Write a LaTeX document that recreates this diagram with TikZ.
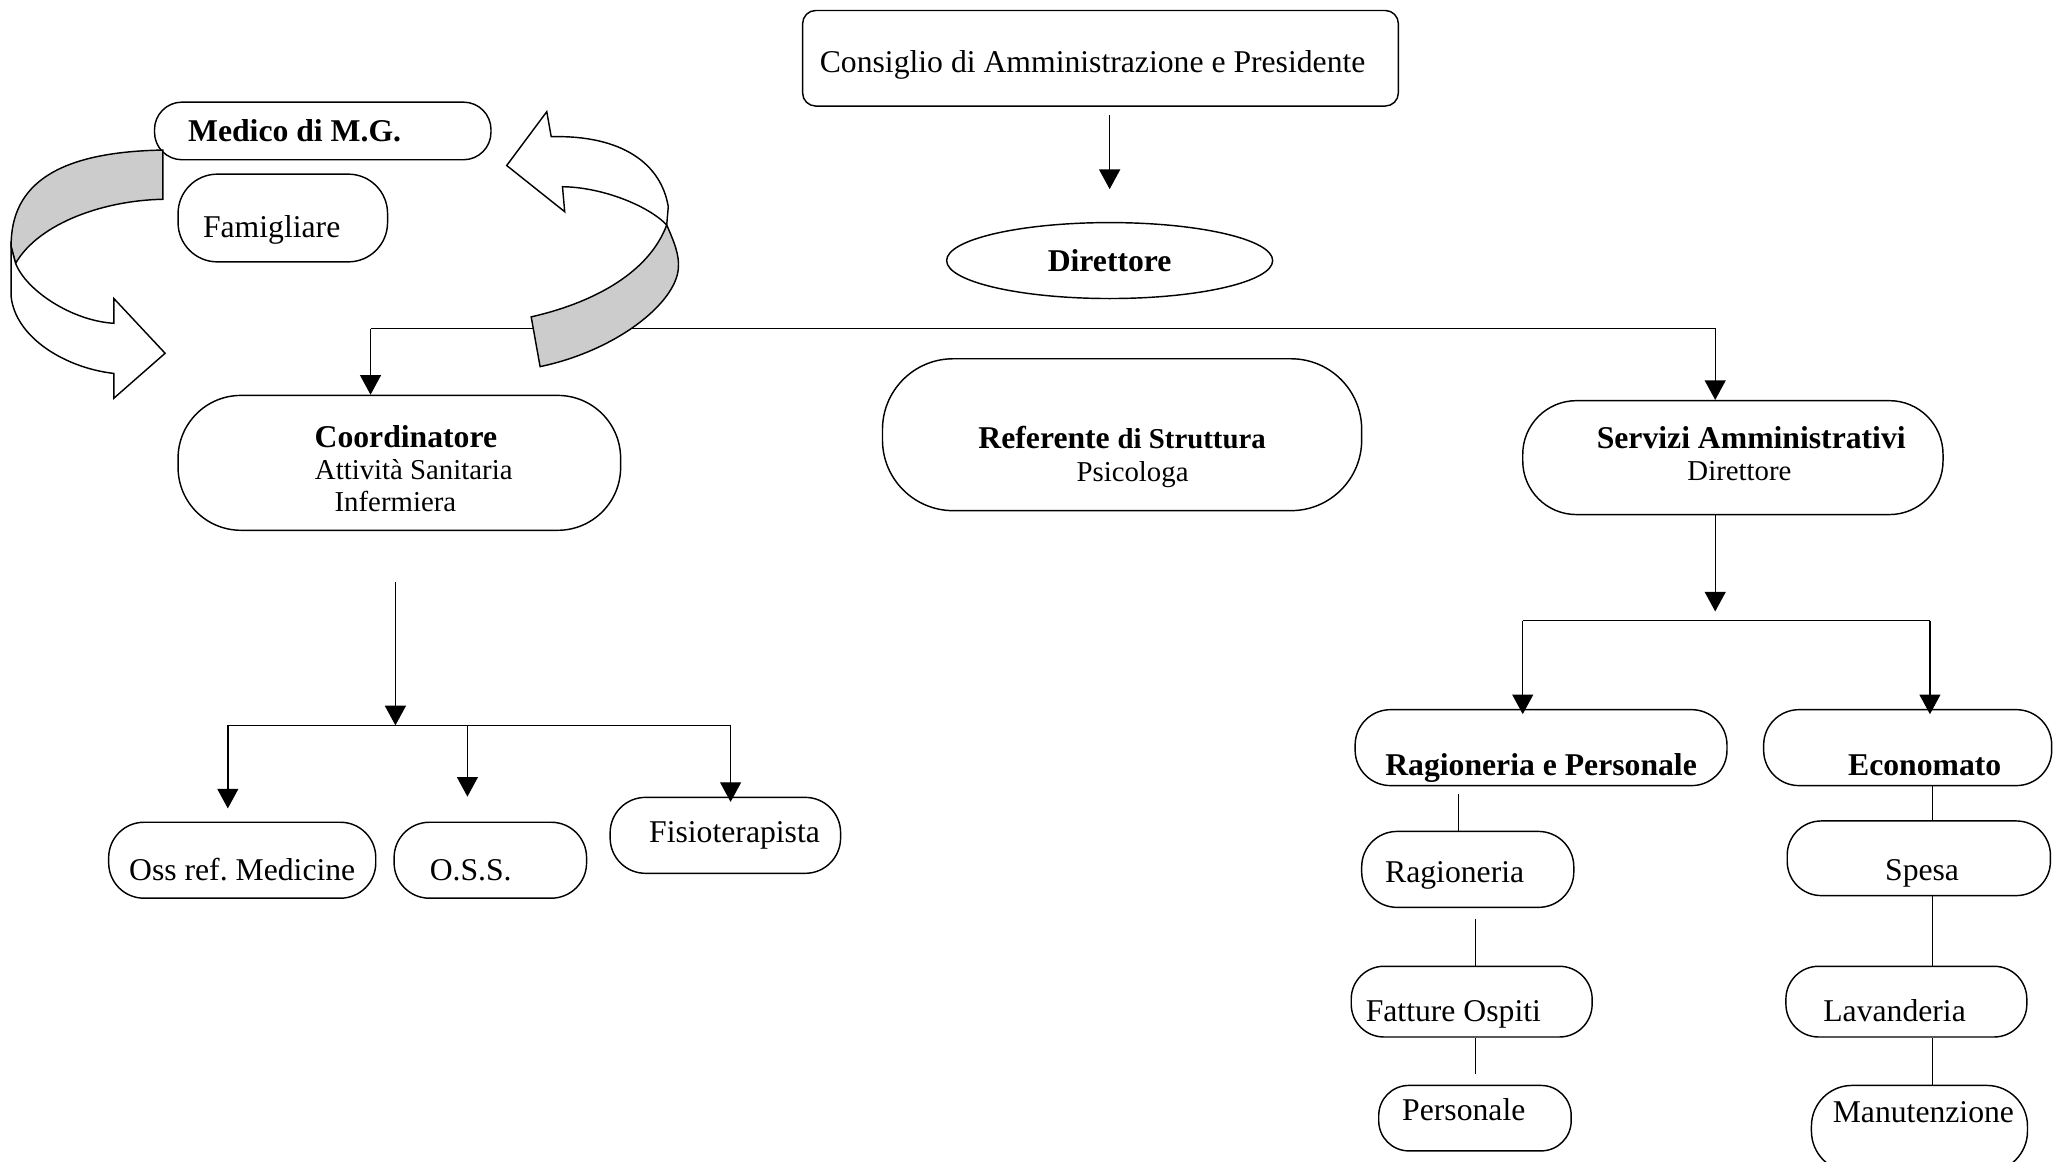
\documentclass[tikz,border=0pt]{standalone}
\usepackage{fontspec}
\setmainfont{Liberation Serif}
\usetikzlibrary{arrows.meta,shapes.geometric}
\newcommand{\sub}[1]{{\fontsize{22}{24.5}\selectfont #1}}

\begin{document}
\begin{tikzpicture}[x=1pt,y=-1pt,line width=1.1pt,
  font=\fontsize{24.2}{24.5}\selectfont,
  pill/.style={draw,rounded corners=#1,inner sep=0pt},
  arr/.style={-{Triangle[width=16pt,length=15pt]}},
  lift/.style 2 args={text height=#1,text depth=#2}]
  \useasboundingbox (0,0) rectangle (1568,887);

  % top of the chart
  \node[draw,rounded corners=10pt,minimum width=455pt,minimum height=73pt,inner sep=0pt,lift={27pt}{5pt}] (cons) at (840.5,44.5) {Consiglio di Amministrazione e Presidente\hspace*{12pt}};
  \node[draw,ellipse,minimum width=249pt,minimum height=58pt,inner sep=0pt] (dir) at (847.5,199) {\textbf{Direttore}};
  \node[pill=21pt,minimum width=257pt,minimum height=44pt] (medico) at (246.5,100) {\textbf{Medico di M.G.}\hspace*{43pt}};
  \node[pill=30pt,minimum width=160pt,minimum height=67pt,lift={35pt}{5pt}] (fam) at (216,166.5) {Famigliare\hspace*{17pt}};

  % second row
  \node[pill=48pt,minimum width=338pt,minimum height=103pt,align=center] (coord) at (305,353.5) {\rule{0pt}{26pt}\hspace*{10pt}\textbf{Coordinatore}\\\hspace*{22pt}\sub{Attività Sanitaria}\\\sub{Infermiera}\hspace*{6pt}};
  \node[pill=54pt,minimum width=366pt,minimum height=116pt,align=center] (ref) at (857,332) {\rule{0pt}{51pt}\textbf{Referente} \sub{\textbf{di Struttura}}\\\hspace*{16pt}\sub{Psicologa}};
  \node[pill=41pt,minimum width=321pt,minimum height=87pt,align=center] (serv) at (1323.5,349.5) {\hspace*{28pt}\textbf{Servizi Amministrativi}\\\hspace*{10pt}\sub{Direttore}\rule[-6pt]{0pt}{6pt}};

  % sanitary staff
  \node[pill=27pt,minimum width=204pt,minimum height=58pt,lift={36pt}{5pt}] (oss) at (185,657) {Oss ref.\ Medicine};
  \node[pill=27pt,minimum width=147pt,minimum height=58pt,lift={36pt}{5pt}] (osss) at (374.5,657) {O.S.S.\hspace*{30pt}};
  \node[pill=27pt,minimum width=176pt,minimum height=58pt] (fisio) at (554,638) {\hspace*{14pt}Fisioterapista};

  % administration
  \node[pill=27pt,minimum width=284pt,minimum height=58pt,lift={48pt}{5pt}] (ragper) at (1177,571) {\textbf{Ragioneria e Personale}};
  \node[pill=27pt,minimum width=220pt,minimum height=58pt,lift={48pt}{5pt}] (econ) at (1457,571) {\hspace*{26pt}\textbf{Economato}};
  \node[pill=27pt,minimum width=162pt,minimum height=58pt,lift={25pt}{5pt}] (ragi) at (1121,664) {Ragioneria\hspace*{20pt}};
  \node[pill=25pt,minimum width=184pt,minimum height=54pt,lift={36pt}{5pt}] (fatt) at (1124,765) {Fatture Ospiti\hspace*{28pt}};
  \node[pill=23pt,minimum width=147pt,minimum height=50pt,lift={8pt}{5pt}] (pers) at (1126.5,854) {Personale\hspace*{17pt}};
  \node[pill=26pt,minimum width=201pt,minimum height=57pt,lift={39pt}{5pt}] (spesa) at (1465.5,655.5) {\hspace*{5pt}Spesa};
  \node[pill=25pt,minimum width=184pt,minimum height=54pt,lift={36pt}{5pt}] (lav) at (1456,765) {Lavanderia\hspace*{18pt}};
  \node[pill=31pt,minimum width=165pt,minimum height=66pt,lift={0pt}{9pt}] (manut) at (1466,862) {\hspace*{6pt}Manutenzione};

  % connectors
  \coordinate (busL) at (283,251);
  \coordinate (busR) at (1310,251);
  \draw[arr,shorten <=6pt,shorten >=25pt] (cons.south -| dir.north) -- (dir.north);
  \draw[arr] (busL) -| (busR |- serv.north);
  \draw[arr] (busL) -- (busL |- coord.north);

  \coordinate (cbus) at (302,554);
  \coordinate (c1) at (174,554);
  \coordinate (c2) at (357,554);
  \coordinate (c3) at (558,554);
  \draw[arr,shorten <=39pt] (coord.south -| cbus) -- (cbus);
  \draw (c1) -- (c3);
  \draw[arr,shorten >=10pt] (c1) -- (c1 |- oss.north);
  \draw[arr,shorten >=19pt] (c2) -- (c2 |- osss.north);
  \draw[arr,shorten >=-4pt] (c3) -- (c3 |- fisio.north);

  \coordinate (sbus) at (1310,474);
  \coordinate (s1) at (1163,474);
  \coordinate (s2) at (1474,474);
  \draw[arr,shorten >=7pt] (serv.south -| sbus) -- (sbus);
  \draw (s1) -- (s2);
  \draw[arr,shorten >=-4pt] (s1) -- (s1 |- ragper.north);
  \draw[arr,shorten >=-4pt] (s2) -- (s2 |- econ.north);

  \coordinate (rc1) at (1114,0);
  \coordinate (rc2) at (1127,0);
  \coordinate (ec) at (1476,0);
  \draw[shorten <=6pt] (rc1 |- ragper.south) -- (rc1 |- ragi.north);
  \draw[shorten <=8pt] (rc2 |- ragi.south) -- (rc2 |- fatt.north);
  \draw[shorten >=8pt] (rc2 |- fatt.south) -- (rc2 |- pers.north);
  \draw (ec |- econ.south) -- (ec |- spesa.north);
  \draw (ec |- spesa.south) -- (ec |- lav.north);
  \draw (ec |- lav.south) -- (ec |- manut.north);

  % curved ribbon arrows
  \draw[fill=gray!40] (124.4,114.6) .. controls (45,116) and (8,140) .. (8.5,188.4) -- (11.9,201.1) .. controls (30,170) and (80,153) .. (124.4,152.2) -- cycle;
  \draw[fill=white] (8.5,188.4) -- (8.5,226.6) .. controls (12,258) and (50,281) .. (86.9,285.2) -- (86.9,304.2) -- (126.1,269.8) -- (86.9,227.9) -- (86.9,246.9) .. controls (55,245) and (20,222) .. (11.9,201.1) -- cycle;
  \draw[fill=white] (421,104.4) .. controls (475,103) and (505,125) .. (510.4,157.9) -- (509.2,171.8) .. controls (495,157) and (460,143) .. (429.6,142.6) -- (431.3,161.7) -- (387,126.4) -- (417.6,85.3) -- cycle;
  \draw[fill=gray!40] (509.2,171.8) .. controls (515,185) and (519,195) .. (518.1,205) .. controls (516,232) and (470,268) .. (412.5,280) -- (405.7,242) .. controls (450,232) and (495,210) .. (509.2,171.8) -- cycle;
\end{tikzpicture}
\end{document}
